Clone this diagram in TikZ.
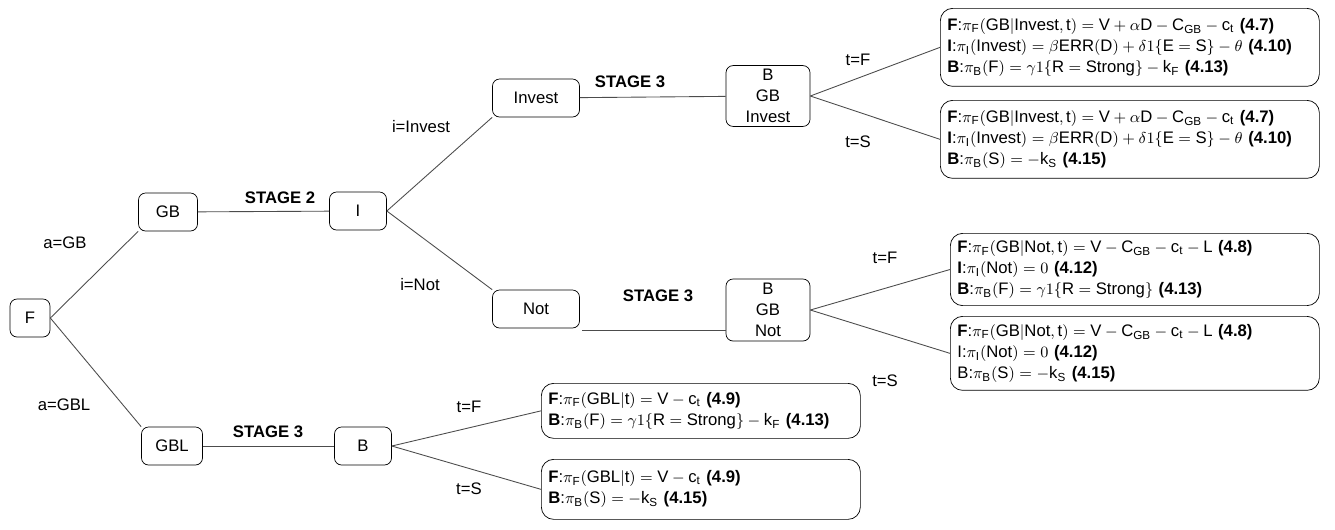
\documentclass[tikz,border=0pt]{standalone}
\usepackage{fontspec}
\setmainfont{Liberation Sans}
\begin{document}
\begin{tikzpicture}[x=0.02cm,y=-0.02cm,
  every node/.style={font=\fontsize{9.5}{12}\selectfont},
  nd/.style={draw,rounded corners=4pt,minimum height=0.76cm,align=center,inner sep=2pt},
  pay/.style={draw,rounded corners=7pt,align=left,anchor=north west,inner sep=4pt,text width=#1},
  ln/.style={draw=black!70,line width=0.5pt},
  lab/.style={font=\fontsize{9.5}{12}\selectfont},
  stg/.style={font=\bfseries\fontsize{9.5}{12}\selectfont}]
\useasboundingbox (0,0) rectangle (1335,529);
\node[nd,minimum width=0.8cm] (F) at (30,318) {F};
\node[nd,minimum width=1.18cm] (GB) at (168,212) {GB};
\node[nd,minimum width=1.22cm] (GBL) at (172,446) {GBL};
\node[nd,minimum width=1.14cm] (I) at (358,211) {I};
\node[nd,minimum width=1.74cm] (Inv) at (536,98) {Invest};
\node[nd,minimum width=1.74cm] (Not) at (536,309) {Not};
\node[nd,minimum width=1.68cm,minimum height=1.2cm] (BI) at (768,96) {B\\GB\\Invest};
\node[nd,minimum width=1.68cm,minimum height=1.24cm] (BN) at (768,310) {B\\GB\\Not};
\node[nd,minimum width=1.14cm] (B) at (363,446) {B};
\def\F{\textbf{F}}\def\B{\textbf{B}}\def\I{\textbf{I}}
\node[pay=7.3cm,minimum height=1.56cm] (p1) at (940,8) {\F:$\pi_{\mathrm F}(\mathrm{GB}|\mathrm{Invest},\mathrm t)=\mathrm V+\alpha\mathrm D-\mathrm C_{\mathrm{GB}}-\mathrm c_{\mathrm t}$ \textbf{(4.7)}\\
\I:$\pi_{\mathrm I}(\mathrm{Invest})=\beta\mathrm{ERR}(\mathrm D)+\delta1\{\mathrm E=\mathrm S\}-\theta$ \textbf{(4.10)}\\
\B:$\pi_{\mathrm B}(\mathrm F)=\gamma1\{\mathrm R=\mathrm{Strong}\}-\mathrm k_{\mathrm F}$ \textbf{(4.13)}};
\node[pay=7.3cm,minimum height=1.56cm] (p2) at (940,100) {\F:$\pi_{\mathrm F}(\mathrm{GB}|\mathrm{Invest},\mathrm t)=\mathrm V+\alpha\mathrm D-\mathrm C_{\mathrm{GB}}-\mathrm c_{\mathrm t}$ \textbf{(4.7)}\\
\I:$\pi_{\mathrm I}(\mathrm{Invest})=\beta\mathrm{ERR}(\mathrm D)+\delta1\{\mathrm E=\mathrm S\}-\theta$ \textbf{(4.10)}\\
\B:$\pi_{\mathrm B}(\mathrm S)=-\mathrm k_{\mathrm S}$ \textbf{(4.15)}};
\node[pay=7.1cm,minimum height=1.3cm] (p3) at (950,233) {\F:$\pi_{\mathrm F}(\mathrm{GB}|\mathrm{Not},\mathrm t)=\mathrm V-\mathrm C_{\mathrm{GB}}-\mathrm c_{\mathrm t}-\mathrm L$ \textbf{(4.8)}\\
\I:$\pi_{\mathrm I}(\mathrm{Not})=0$ \textbf{(4.12)}\\
\B:$\pi_{\mathrm B}(\mathrm F)=\gamma1\{\mathrm R=\mathrm{Strong}\}$ \textbf{(4.13)}};
\node[pay=7.1cm,minimum height=1.48cm] (p4) at (950,316) {\F:$\pi_{\mathrm F}(\mathrm{GB}|\mathrm{Not},\mathrm t)=\mathrm V-\mathrm C_{\mathrm{GB}}-\mathrm c_{\mathrm t}-\mathrm L$ \textbf{(4.8)}\\
I:$\pi_{\mathrm I}(\mathrm{Not})=0$ \textbf{(4.12)}\\
B:$\pi_{\mathrm B}(\mathrm S)=-\mathrm k_{\mathrm S}$ \textbf{(4.15)}};
\node[pay=6.1cm,minimum height=1.1cm] (p5) at (541,383) {\F:$\pi_{\mathrm F}(\mathrm{GBL}|\mathrm t)=\mathrm V-\mathrm c_{\mathrm t}$ \textbf{(4.9)}\\
\B:$\pi_{\mathrm B}(\mathrm F)=\gamma1\{\mathrm R=\mathrm{Strong}\}-\mathrm k_{\mathrm F}$ \textbf{(4.13)}};
\node[pay=6.1cm,minimum height=1.2cm] (p6) at (541,459) {\F:$\pi_{\mathrm F}(\mathrm{GBL}|\mathrm t)=\mathrm V-\mathrm c_{\mathrm t}$ \textbf{(4.9)}\\
\B:$\pi_{\mathrm B}(\mathrm S)=-\mathrm k_{\mathrm S}$ \textbf{(4.15)}};
\coordinate (n1) at (582,330); \coordinate (n2) at (726,330);
\draw[ln] (F.east) -- (GB.south west);
\draw[ln] (F.east) -- (GBL.north west);
\draw[ln] (GB) -- (I);
\draw[ln] (GBL) -- (B);
\draw[ln] (I.east) -- (Inv.south west);
\draw[ln] (I.east) -- (Not.north west);
\draw[ln] (Inv) -- (BI);
\draw[ln] (n1) -- (n2);
\draw[ln] (BI.east) -- (p1.west);
\draw[ln] (BI.east) -- (p2.west);
\draw[ln] (BN.east) -- (p3.west);
\draw[ln] (BN.east) -- (p4.west);
\draw[ln] (B.east) -- (p5.west);
\draw[ln] (B.east) -- (p6.west);
\node[lab] (l1) at (65,243) {a=GB};
\node[lab] (l2) at (64,405) {a=GBL};
\node[stg] (s2) at (280,198) {STAGE 2};
\node[lab] (l3) at (421,127) {i=Invest};
\node[lab] (l4) at (420,285) {i=Not};
\node[stg] (s3a) at (630,82) {STAGE 3};
\node[stg] (s3b) at (658,296) {STAGE 3};
\node[stg] (s3c) at (268,432) {STAGE 3};
\node[lab] (t1) at (858,60) {t=F};
\node[lab] (t2) at (858,142) {t=S};
\node[lab] (t3) at (885,258) {t=F};
\node[lab] (t4) at (885,381) {t=S};
\node[lab] (t5) at (469,407) {t=F};
\node[lab] (t6) at (469,489) {t=S};
\end{tikzpicture}
\end{document}
